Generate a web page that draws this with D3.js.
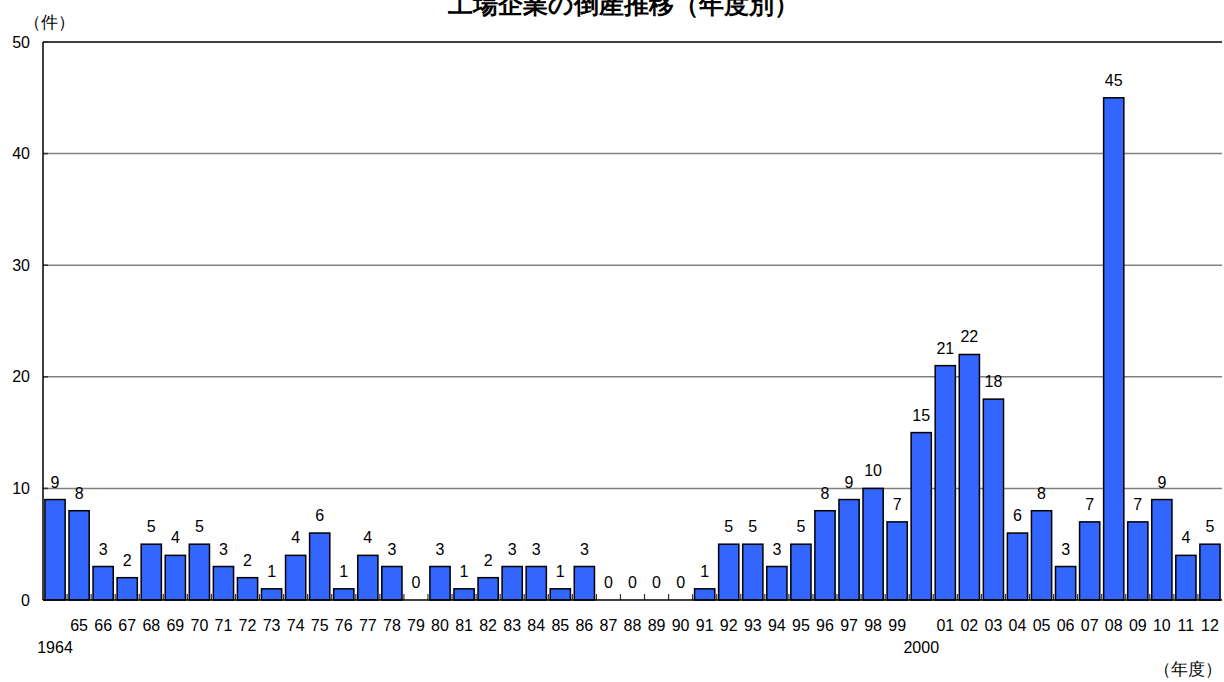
<!DOCTYPE html>
<html><head><meta charset="utf-8">
<script src="https://cdn.jsdelivr.net/npm/d3@7/dist/d3.min.js"></script>
<style>
body{margin:0;background:#fff;}
text{font-family:"Liberation Sans",Arial,sans-serif;}
</style></head>
<body><svg id="c" width="1224" height="682"></svg>
<script>
const years = ["1964","65","66","67","68","69","70","71","72","73","74","75","76","77","78","79","80","81","82","83","84","85","86","87","88","89","90","91","92","93","94","95","96","97","98","99","2000","01","02","03","04","05","06","07","08","09","10","11","12"];
const values = [9,8,3,2,5,4,5,3,2,1,4,6,1,4,3,0,3,1,2,3,3,1,3,0,0,0,0,1,5,5,3,5,8,9,10,7,15,21,22,18,6,8,3,7,45,7,9,4,5];
const yTicks = [0,10,20,30,40,50];
const secondLine = {"1964":"1964","2000":"2000"};
const title = "工場企業の倒産推移（年度別）";
const yUnit = "（件）";
const xUnit = "（年度）";

(function(){
const svg = d3.select("#c");
const pL = 43, pR = 1222, pT = 42, pB = 600;
const fs = 16;
const x = d3.scaleBand().domain(years).range([pL, pR]).paddingInner(0.16).paddingOuter(0.08);
const y = d3.scaleLinear().domain([0, 50]).range([pB, pT]);

svg.append("g").selectAll("line").data(yTicks.filter(d => d > 0 && d < 50)).join("line")
  .attr("x1", pL).attr("x2", pR).attr("y1", d => y(d)).attr("y2", d => y(d))
  .attr("stroke", "#808080").attr("stroke-width", 1.5);
svg.append("line").attr("x1", pL).attr("x2", pR).attr("y1", y(50)).attr("y2", y(50))
  .attr("stroke", "#000").attr("stroke-width", 1.3);

svg.append("g").selectAll("text").data(yTicks).join("text")
  .attr("x", 30).attr("y", d => y(d)).attr("dy", "0.35em").attr("text-anchor", "end")
  .attr("font-size", fs).attr("fill", "#000").text(d => d);
svg.append("g").selectAll("line").data(yTicks).join("line")
  .attr("x1", pL).attr("x2", pL + 5).attr("y1", d => y(d)).attr("y2", d => y(d))
  .attr("stroke", "#333").attr("stroke-width", 1.5);

svg.append("g").selectAll("rect").data(values).join("rect")
  .attr("x", (d, i) => x(years[i])).attr("width", x.bandwidth())
  .attr("y", d => y(d)).attr("height", d => y(0) - y(d))
  .attr("fill", "#3366FF").attr("stroke", d => d > 0 ? "#000" : "none").attr("stroke-width", 1.5);

svg.append("g").selectAll("text").data(values).join("text")
  .attr("x", (d, i) => x(years[i]) + x.bandwidth() / 2).attr("y", d => y(d) - 12)
  .attr("text-anchor", "middle").attr("font-size", fs).attr("fill", "#000").text(d => d);

svg.append("g").selectAll("line").data(d3.range(1, years.length)).join("line")
  .attr("x1", i => pL + i * (pR - pL) / years.length).attr("x2", i => pL + i * (pR - pL) / years.length)
  .attr("y1", pB).attr("y2", pB - 6).attr("stroke", "#333").attr("stroke-width", 1.2);

svg.append("line").attr("x1", pL).attr("x2", pL).attr("y1", pT).attr("y2", pB).attr("stroke", "#000").attr("stroke-width", 1.5);
svg.append("line").attr("x1", pL).attr("x2", pR).attr("y1", pB).attr("y2", pB).attr("stroke", "#000").attr("stroke-width", 1.5);

svg.append("g").selectAll("text").data(years).join("text")
  .attr("x", d => x(d) + x.bandwidth() / 2).attr("y", 631).attr("text-anchor", "middle")
  .attr("font-size", fs).attr("fill", "#000").text(d => secondLine[d] ? "" : d);
svg.append("g").selectAll("text").data(years.filter(d => secondLine[d])).join("text")
  .attr("x", d => x(d) + x.bandwidth() / 2).attr("y", 653).attr("text-anchor", "middle")
  .attr("font-size", fs).attr("fill", "#000").text(d => secondLine[d]);

svg.append("text").attr("x", 24).attr("y", 28).attr("font-size", 16.5).attr("font-family", "Noto Sans CJK JP").text(yUnit);
svg.append("text").attr("x", 1222).attr("y", 675).attr("text-anchor", "end").attr("font-size", 16.5).attr("font-family", "Noto Sans CJK JP").text(xUnit);
svg.append("text").attr("x", 623).attr("y", 13).attr("text-anchor", "middle").attr("font-size", 25).attr("font-weight", "bold")
  .attr("font-family", "Noto Sans CJK JP").text(title);
})();
</script></body></html>
